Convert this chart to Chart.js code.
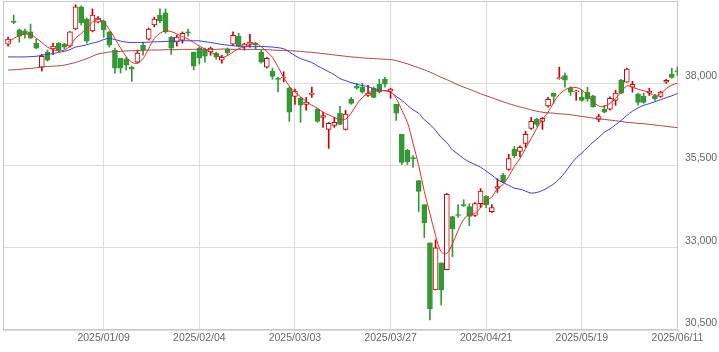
<!DOCTYPE html>
<html><head><meta charset="utf-8">
<script src="https://cdn.jsdelivr.net/npm/chart.js@4/dist/chart.umd.min.js"></script>
<style>html,body{margin:0;padding:0;background:#fff;}#wrap{width:719px;height:352px;}</style>
</head><body><div id="wrap"><canvas id="c" width="719" height="352"></canvas></div>
<script>
const dates = [
'2024/12/11','2024/12/12','2024/12/13','2024/12/16','2024/12/17','2024/12/18','2024/12/19','2024/12/20','2024/12/23','2024/12/24',
'2024/12/25','2024/12/26','2024/12/27','2024/12/30','2025/01/06','2025/01/07','2025/01/08','2025/01/09','2025/01/10','2025/01/14',
'2025/01/15','2025/01/16','2025/01/17','2025/01/20','2025/01/21','2025/01/22','2025/01/23','2025/01/24','2025/01/27','2025/01/28',
'2025/01/29','2025/01/30','2025/01/31','2025/02/03','2025/02/04','2025/02/05','2025/02/06','2025/02/07','2025/02/10','2025/02/12',
'2025/02/13','2025/02/14','2025/02/17','2025/02/18','2025/02/19','2025/02/20','2025/02/21','2025/02/25','2025/02/26','2025/02/27',
'2025/02/28','2025/03/03','2025/03/04','2025/03/05','2025/03/06','2025/03/07','2025/03/10','2025/03/11','2025/03/12','2025/03/13',
'2025/03/14','2025/03/17','2025/03/18','2025/03/19','2025/03/21','2025/03/24','2025/03/25','2025/03/26','2025/03/27','2025/03/28',
'2025/03/31','2025/04/01','2025/04/02','2025/04/03','2025/04/04','2025/04/07','2025/04/08','2025/04/09','2025/04/10','2025/04/11',
'2025/04/14','2025/04/15','2025/04/16','2025/04/17','2025/04/18','2025/04/21','2025/04/22','2025/04/23','2025/04/24','2025/04/25',
'2025/04/28','2025/04/30','2025/05/01','2025/05/02','2025/05/07','2025/05/08','2025/05/09','2025/05/12','2025/05/13','2025/05/14',
'2025/05/15','2025/05/16','2025/05/19','2025/05/20','2025/05/21','2025/05/22','2025/05/23','2025/05/26','2025/05/27','2025/05/28',
'2025/05/29','2025/05/30','2025/06/02','2025/06/03','2025/06/04','2025/06/05','2025/06/06','2025/06/09','2025/06/10','2025/06/11'];

const open = [
39190,39880,39620,39590,39560,39220,38490,38950,39040,39220,
39190,39130,39650,40320,39950,39590,39860,39890,39560,39010,
38760,38730,38490,38640,39160,39340,39770,40070,40140,39400,
39250,39310,39560,38950,39070,39010,38950,38920,38700,39040,
39190,39430,39100,39190,39220,38950,38490,38370,38150,38160,
37850,37600,37540,37360,37660,37210,36960,36600,36720,37090,
36600,37510,37910,37880,37630,37850,37970,38120,37760,37360,
36450,35960,35740,35040,34310,33150,31720,32540,32330,33950,
34010,34310,34250,33980,34340,34560,34100,34800,35200,35380,
35990,35930,36170,36630,36900,36840,37310,37700,38140,38230,
37850,37740,37570,37730,37620,36900,37210,37210,37480,38090,
38030,37880,37660,37600,37700,37600,37600,38030,38270,38380];

const high = [
39400,40070,39650,39650,39800,39340,38880,39010,39220,39240,
39220,39570,40390,40350,39980,40260,40030,39920,39570,39070,
38760,38790,38520,39010,39250,39680,40010,40260,40260,39430,
39460,39560,39650,38950,39100,39070,39100,38950,38850,39070,
39560,39520,39220,39490,39250,39010,38790,38460,38190,38350,
37880,37820,37570,37570,37880,37240,37120,36810,36960,37300,
37180,37570,38000,38000,37940,37890,38120,38180,37850,37360,
36450,35990,35800,35040,34310,33150,33240,32540,34650,33950,
34310,34460,34340,34370,34800,34590,34310,35100,35260,35840,
36080,36100,36540,36960,36930,36960,37570,37700,38490,38310,
37890,37790,37790,37880,37630,37060,37330,37590,37790,38120,
38460,38060,37700,37700,37850,37660,37760,38120,38460,38490];

const low = [
39130,39810,39250,39370,39360,39050,38370,38670,38880,38950,
39040,39100,39630,39770,39220,39560,39830,39400,39100,38310,
38310,38400,38060,38610,38850,39310,39710,39830,39520,38880,
39130,39220,39430,38400,38580,38640,38850,38730,38610,38850,
39160,39100,39010,39100,39040,38610,38460,38120,37740,38040,
36840,37360,36810,37180,37570,36810,36660,36020,36660,36740,
36580,37360,37820,37700,37600,37560,37700,37880,37540,36870,
35530,35530,35440,34100,33310,30810,31720,31260,32330,32730,
33920,34250,33670,33950,34220,34220,34070,34680,34980,35350,
35740,35770,36050,36600,36690,36600,37270,37390,38120,37880,
37630,37480,37450,37450,37270,36830,37100,37180,37330,37680,
38030,37730,37330,37390,37630,37480,37570,38000,38150,38240];

const close = [
39340,39850,39430,39490,39370,39070,38820,38700,39130,39010,
39100,39560,40320,39830,39280,40070,39980,39620,39160,38460,
38460,38550,38430,38920,39010,39650,39950,39890,39560,39070,
39400,39520,39520,38520,38760,38820,39070,38790,38790,38920,
39460,39130,39190,39250,39160,38640,38760,38210,38120,38190,
37120,37760,37330,37430,37700,36840,37020,36780,36810,36750,
37060,37390,37850,37730,37700,37570,37730,37970,37820,37090,
35590,35620,35710,34710,33760,31140,33000,31720,34620,33580,
33980,34280,33950,34340,34720,34310,34220,34860,35000,35710,
35800,36050,36450,36840,36750,36930,37510,37600,38170,38090,
37730,37770,37480,37530,37280,36990,37120,37540,37700,37700,
38430,37970,37420,37420,37760,37530,37730,38090,38180,38350];

const ma5 = [
39250,39360,39450,39490,39480,39370,39240,39100,39020,38990,
39010,39130,39370,39510,39680,39860,39940,39860,39630,39360,
39070,38810,38640,38610,38750,39050,39360,39520,39590,39570,
39500,39420,39340,39240,39130,39040,38950,38870,38790,38840,
38950,39050,39110,39160,39220,39110,38960,38790,38490,38180,
37910,37730,37590,37450,37330,37240,37120,37040,36960,36900,
36910,37090,37360,37570,37700,37760,37770,37780,37740,37540,
37180,36810,36170,35500,34710,34040,33370,32880,32830,33120,
33520,33860,34020,34040,34220,34430,34540,34800,34920,35170,
35470,35710,36020,36320,36630,36900,37120,37420,37660,37800,
37870,37870,37800,37630,37450,37310,37300,37390,37540,37730,
37920,37880,37820,37770,37710,37620,37680,37840,37940,38000];

const ma25 = [
38800,38800,38800,38800,38810,38820,38850,38880,38900,38940,
38970,39020,39100,39130,39170,39220,39260,39330,39360,39330,
39280,39250,39240,39240,39240,39250,39260,39260,39270,39280,
39280,39290,39290,39290,39290,39260,39240,39210,39180,39160,
39140,39130,39120,39110,39110,39120,39110,39100,39080,39050,
38950,38840,38750,38690,38630,38530,38440,38350,38260,38140,
38080,38020,37970,37930,37900,37830,37790,37770,37730,37600,
37480,37330,37190,37090,36890,36750,36570,36350,36200,35970,
35850,35710,35610,35530,35450,35330,35210,35070,34980,34900,
34810,34780,34720,34660,34680,34740,34830,34940,35090,35290,
35520,35730,35880,36050,36210,36350,36510,36610,36740,36870,
37020,37150,37250,37330,37380,37440,37500,37560,37620,37690];

const ma75 = [
38400,38410,38420,38440,38450,38470,38490,38510,38520,38530,
38550,38590,38630,38690,38750,38820,38890,38920,38950,38960,
38970,38980,38990,38990,39000,39010,39010,39010,39020,39020,
39020,39030,39030,39030,39030,39030,39030,39030,39040,39040,
39030,39030,39030,39030,39030,39020,39020,39010,39000,39000,
38990,38980,38970,38950,38940,38920,38900,38880,38860,38840,
38820,38800,38790,38770,38760,38750,38740,38730,38720,38690,
38640,38590,38530,38470,38410,38340,38260,38180,38110,38030,
37950,37880,37820,37750,37680,37620,37560,37500,37440,37380,
37330,37280,37240,37190,37150,37120,37100,37090,37070,37060,
37040,37020,36990,36970,36940,36920,36900,36880,36860,36840,
36810,36800,36780,36770,36750,36730,36710,36690,36670,36650];

const tickDates = ['2025/01/09','2025/02/04','2025/03/03','2025/03/27','2025/04/21','2025/05/19','2025/06/11'];
const yTicks = [30500, 33000, 35500, 38000, 40500];

const UP = '#cc0000', DOWN = '#339933';
const up = close.map((c, i) => c > open[i]);
const tickIdx = tickDates.map(d => dates.indexOf(d));

const frame = {
  id: 'frame',
  beforeDatasetsDraw(chart) {
    const {ctx, chartArea: a} = chart;
    ctx.save();
    ctx.strokeStyle = '#c8c8c8';
    ctx.lineWidth = 1;
    ctx.strokeRect(Math.round(a.left) + 0.5, Math.round(a.top) + 0.5,
      Math.round(a.right - a.left) - 1, Math.round(a.bottom - a.top) - 1);
    ctx.restore();
  }
};

Chart.defaults.font.family = "'Liberation Sans', Arial, sans-serif";
Chart.defaults.font.size = 10.5;

new Chart(document.getElementById('c'), {
  type: 'bar',
  data: {
    datasets: [
      { type: 'line', label: 'MA5', data: ma5.map((v, i) => ({x: i, y: v})),
        borderColor: '#e42a2a', borderWidth: 1, pointRadius: 0, tension: 0.35, order: 0 },
      { type: 'line', label: 'MA25', data: ma25.map((v, i) => ({x: i, y: v})),
        borderColor: '#3a3ad8', borderWidth: 1, pointRadius: 0, tension: 0.3, order: 0 },
      { type: 'line', label: 'MA75', data: ma75.map((v, i) => ({x: i, y: v})),
        borderColor: '#a04848', borderWidth: 1, pointRadius: 0, tension: 0.3, order: 0 },
      { label: 'body', data: open.map((o, i) => ({x: i, y: [o, close[i]]})),
        backgroundColor: up.map(u => u ? '#ffffff' : DOWN),
        borderColor: up.map(u => u ? UP : DOWN),
        borderWidth: 1, borderSkipped: false, barThickness: 5, minBarLength: 1,
        grouped: false, order: 2 },
      { label: 'wick', data: low.map((l, i) => ({x: i, y: [l, high[i]]})),
        backgroundColor: up.map(u => u ? UP : DOWN),
        borderWidth: 0, barThickness: 1, grouped: false, order: 3 }
    ]
  },
  options: {
    responsive: false,
    animation: false,
    devicePixelRatio: 1,
    layout: { padding: { left: 3, top: 1, right: 0, bottom: 0 } },
    plugins: { legend: { display: false }, tooltip: { enabled: false } },
    scales: {
      x: {
        type: 'linear', min: -0.9, max: 119.1, offset: false,
        grid: { color: '#dcdcdc', drawTicks: false, offset: false },
        border: { display: false },
        afterBuildTicks: s => { s.ticks = tickIdx.map(v => ({value: v})); },
        afterFit: s => { s.height = 22; s.paddingLeft = 0; s.paddingRight = 0; },
        ticks: { autoSkip: false, maxRotation: 0, padding: 2, color: '#666',
          callback: v => dates[v] || '' }
      },
      y: {
        position: 'right', min: 30500, max: 40500,
        grid: { color: '#dcdcdc', drawTicks: false },
        border: { display: false },
        afterBuildTicks: s => { s.ticks = yTicks.map(v => ({value: v})); },
        afterFit: s => { s.width = 41; s.paddingTop = 0; s.paddingBottom = 0; },
        ticks: { padding: 7, labelOffset: -7, color: '#666',
          callback: v => v === 40500 ? '' : v.toLocaleString('en-US') }
      }
    }
  },
  plugins: [frame]
});
</script></body></html>
